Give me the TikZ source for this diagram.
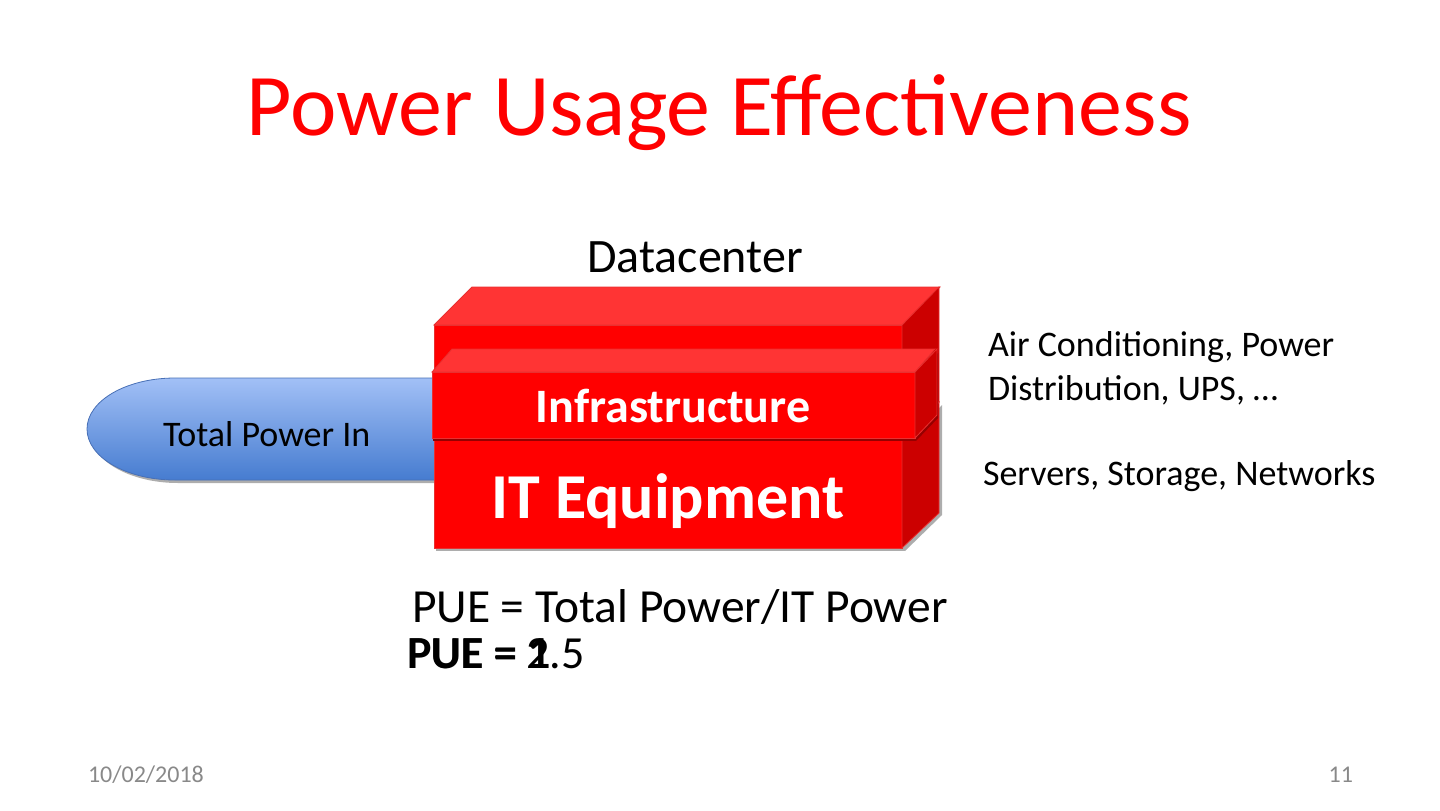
\documentclass[tikz,border=0pt]{standalone}
\usepackage{fontspec}
\setmainfont{Carlito}
\usetikzlibrary{positioning}

\definecolor{titlered}{RGB}{255,0,0}
\definecolor{boxfront}{RGB}{255,0,0}
\definecolor{boxtop}{RGB}{255,52,52}
\definecolor{boxside}{RGB}{204,0,0}
\definecolor{boxedge}{RGB}{232,48,48}
\definecolor{boxdark}{RGB}{150,0,0}
\definecolor{pipetop}{RGB}{162,192,246}
\definecolor{pipebottom}{RGB}{70,124,208}
\definecolor{pipeedge}{RGB}{72,112,182}
\definecolor{footgray}{RGB}{137,137,137}

\newcommand{\fsz}[1]{\fontsize{#1}{#1}\selectfont}

\begin{document}
\begin{tikzpicture}[x=1pt, y=-1pt,
    every node/.style={inner sep=0pt, outer sep=0pt},
    frontface/.style={draw=boxedge, fill=boxfront, line width=0.8pt, anchor=north west},
    topface/.style={draw=boxedge, fill=boxtop, line width=0.8pt},
    sideface/.style={draw=boxedge, fill=boxside, line width=0.8pt},
    dropshadow/.style={fill=black!32},
    boxtext/.style={anchor=base, text=white, font=\bfseries\fsz{#1}},
    plaintext/.style={anchor=base west, font=\fsz{#1}}]
    \useasboundingbox (0,0) rectangle (1440,811);

    % Title
    \node (title) [anchor=base, text=titlered, font=\fsz{88}] at (719,135) {Power Usage Effectiveness};
    \node (dc) [anchor=base, font=\fsz{48}] at (695,272) {Datacenter};

    % Power feed
    \fill[dropshadow] (178,381) arc[start angle=270, end angle=90, x radius=88, y radius=51] -- (445,483) -- (445,381) -- cycle;
    \draw[pipeedge, line width=0.8pt, top color=pipetop, bottom color=pipebottom]
        (175,378) arc[start angle=270, end angle=90, x radius=88, y radius=51] -- (445,480) -- (445,378) -- cycle;
    \node (feed) [plaintext=36] at (163,446) {Total Power In};

    % Infrastructure (back block)
    \node (back) [frontface, minimum width=468, minimum height=115] at (434,325) {};
    \draw[topface] (back.north west) -- ++(38,-38) -- ++(468,0) -- (back.north east) -- cycle;
    \draw[sideface] (back.north east) -- ++(37,-38) -- ++(0,115) -- (back.south east) -- cycle;

    % IT equipment block
    \fill[dropshadow] (436,443) rectangle (905,551);
    \fill[dropshadow] (905,551) -- (942,515) -- (942,405) -- (905,443) -- cycle;
    \node (it) [frontface, minimum width=468, minimum height=108] at (434,440) {};
    \draw[topface] (it.north west) -- ++(37,-38) -- ++(468,0) -- (it.north east) -- cycle;
    \draw[sideface] (it.north east) -- ++(37,-38) -- ++(0,111) -- (it.south east) -- cycle;
    \node (ittext) [boxtext=64] at (668,518) {IT Equipment};

    % Infrastructure slab
    \fill[boxdark] (433,375) rectangle (916,441);
    \fill[boxdark] (916,441) -- (938,418) -- (938,353) -- (916,375) -- cycle;
    \node (infra) [frontface, minimum width=483, minimum height=66] at (432,372) {};
    \draw[topface] (infra.north west) -- ++(20,-23) -- ++(483,0) -- (infra.north east) -- cycle;
    \draw[sideface] (infra.north east) -- ++(22,-23) -- ++(0,66) -- (infra.south east) -- cycle;
    \node (infratext) [boxtext=48] at (673,422) {Infrastructure};

    % Descriptions
    \node (acdesc) [plaintext=36] at (988,356) {Air Conditioning, Power};
    \node (acdesc2) [below=44pt of acdesc.base west, plaintext=36] {Distribution, UPS, \dots};
    \node (itdesc) [plaintext=36] at (983,485) {Servers, Storage, Networks};

    % Formula
    \node (puedef) [plaintext=47.5] at (412,622) {PUE = Total Power/IT Power};
    \node (pueone) [plaintext=46, font=\bfseries\fsz{46}] at (407,668) {PUE = 1};
    \node (puetwo) [plaintext=46] at (407,668) {PUE = 2.5};

    % Footer
    \node (date) [plaintext=24, text=footgray] at (88,782) {10/02/2018};
    \node (page) [anchor=base east, text=footgray, font=\fsz{24}] at (1353,782) {11};
\end{tikzpicture}
\end{document}
